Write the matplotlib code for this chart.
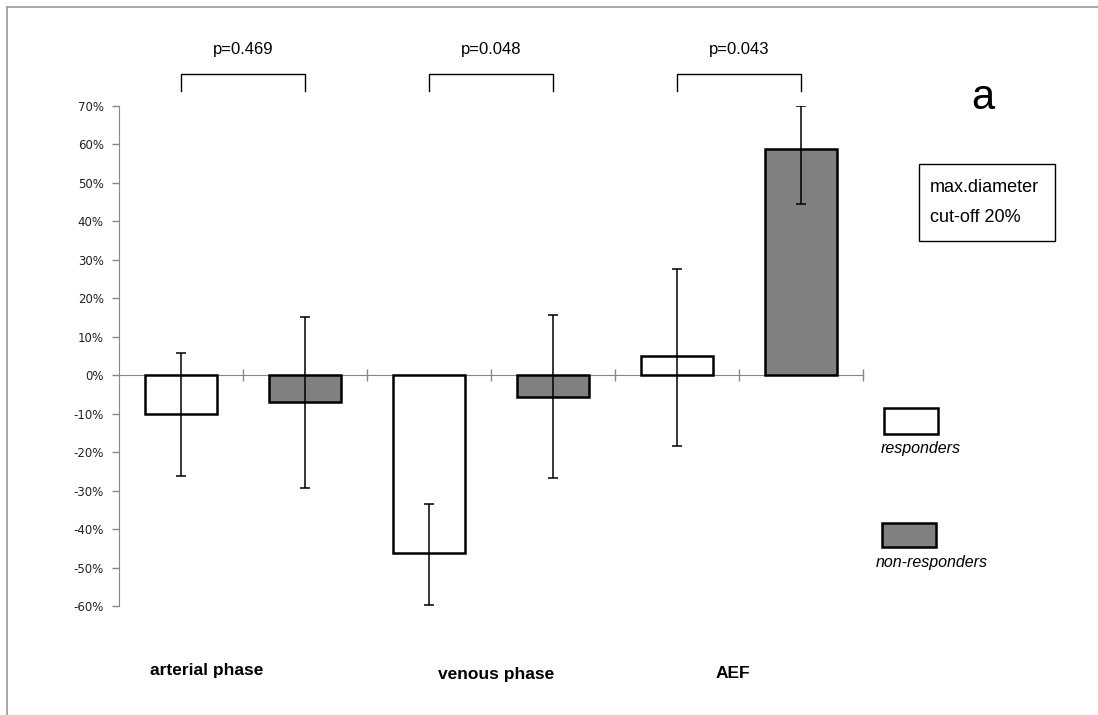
import matplotlib
matplotlib.use("Agg")
import matplotlib.pyplot as plt
import numpy as np
from matplotlib.patches import Rectangle
from matplotlib.lines import Line2D

# values in percent
groups = ['arterial phase', 'venous phase', 'AEF']
responders = [-10.0, -46.2, 4.9]
responders_lo = [-26.1, -59.8, -18.4]
responders_hi = [5.9, -33.4, 27.7]
nonresponders = [-7.0, -5.6, 58.8]
nonresponders_lo = [-29.4, -26.6, 44.5]
nonresponders_hi = [15.1, 15.6, 70.0]
pvalues = ['p=0.469', 'p=0.048', 'p=0.043']
yticks = list(range(-60, 80, 10))

W, H = 1098, 715
fig = plt.figure(figsize=(W / 100, H / 100), dpi=100)


def px(x, y):
    return (x / W, 1 - y / H)


ax = fig.add_axes([119 / W, 1 - 606 / H, (863 - 119) / W, (606 - 106) / H])

xr = np.arange(len(groups)) * 2
xn = xr + 1
r = np.array(responders)
n = np.array(nonresponders)
r_err = [r - np.array(responders_lo), np.array(responders_hi) - r]
n_err = [n - np.array(nonresponders_lo), np.array(nonresponders_hi) - n]

ax.bar(xr, r, width=0.58, color='white', edgecolor='black', linewidth=1.8, zorder=2)
ax.bar(xn, n, width=0.58, color='#808080', edgecolor='black', linewidth=1.8, zorder=2)
ax.errorbar(xr, r, yerr=r_err, fmt='none', ecolor='black', elinewidth=1.1, capsize=3.5, capthick=1.1, zorder=3)
ax.errorbar(xn, n, yerr=n_err, fmt='none', ecolor='black', elinewidth=1.1, capsize=3.5, capthick=1.1, zorder=3)

ax.set_xlim(-0.5, 5.5)
ax.set_ylim(-60, 70)
ax.set_yticks(yticks)
ax.set_yticklabels(['%d%%' % v for v in yticks], fontsize=8.5, color='#222222', family='DejaVu Sans')
ax.set_xticks(np.arange(0.5, 6, 1))
ax.set_xticklabels([])
ax.tick_params(axis='y', direction='out', length=5, width=1, color='#888888', pad=6)
ax.tick_params(axis='x', direction='inout', length=9, width=1, color='#888888')
for s in ['top', 'right']:
    ax.spines[s].set_visible(False)
ax.spines['left'].set_color('#888888')
ax.spines['bottom'].set_color('#888888')
ax.spines['bottom'].set_position(('data', 0))
ax.spines['bottom'].set_zorder(1)

# significance brackets
for i in range(len(groups)):
    ax.plot([xr[i], xr[i], xn[i], xn[i]], [74.0, 78.4, 78.4, 74.0], color='black', lw=1, clip_on=False)
    ax.text((xr[i] + xn[i]) / 2, 84.6, pvalues[i], ha='center', va='center',
            fontsize=12, family='Liberation Sans')

# category labels
label_x = [150, 438, 716]
label_y = [670, 674, 674]
for name, lx, ly in zip(groups, label_x, label_y):
    fig.text(*px(lx, ly), name, ha='left', va='center', fontsize=12.5,
             fontweight='bold', family='Liberation Sans')

# panel letter and info box
fig.text(*px(983, 98), 'a', ha='center', va='center', fontsize=30, family='Liberation Sans')
fig.patches.append(Rectangle(px(919, 241), (1055 - 919) / W, (241 - 164) / H,
                             transform=fig.transFigure, fill=False, edgecolor='black', lw=1))
fig.text(*px(930, 187), 'max.diameter', ha='left', va='center', fontsize=13, family='Liberation Sans')
fig.text(*px(930, 217), 'cut-off 20%', ha='left', va='center', fontsize=13, family='Liberation Sans')

# legend
fig.patches.append(Rectangle(px(884, 434), 54 / W, 26 / H, transform=fig.transFigure,
                             facecolor='white', edgecolor='black', lw=1.8))
fig.text(*px(921, 448), 'responders', ha='center', va='center', fontsize=11.5,
         style='italic', family='Liberation Sans')
fig.patches.append(Rectangle(px(882, 547), 54 / W, 24 / H, transform=fig.transFigure,
                             facecolor='#808080', edgecolor='black', lw=1.8))
fig.text(*px(932, 563), 'non-responders', ha='center', va='center', fontsize=11.5,
         style='italic', family='Liberation Sans')

# frame of the original picture
fig.lines.append(Line2D([7 / W, 1], [1 - 7 / H, 1 - 7 / H], transform=fig.transFigure, color='#999999', lw=1.2))
fig.lines.append(Line2D([7 / W, 7 / W], [0, 1 - 7 / H], transform=fig.transFigure, color='#999999', lw=1.2))

fig.savefig('out.png', dpi=100)
